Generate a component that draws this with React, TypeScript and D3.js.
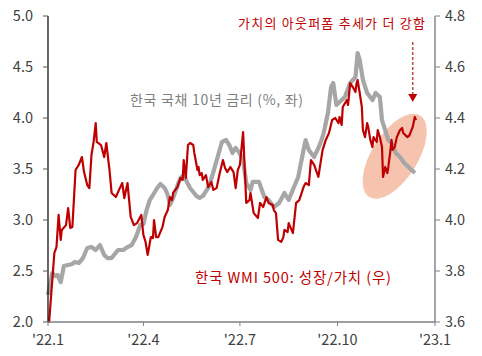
import React from "react";
import * as d3 from "d3";

const W = 482;
const H = 356;

// Korea 10Y government bond yield (%, left axis): day offset from 2022-01-01, value
const bondDays = [0, 4, 7, 9, 12, 15, 19, 23, 25, 29, 33, 37, 41, 45, 49, 53, 56, 60, 66, 71, 75, 79, 83, 87, 90, 93, 96, 99, 103, 106, 110, 113, 115, 118, 120, 123, 125, 128, 131, 134, 137, 140, 143, 146, 148, 152, 156, 160, 164, 168, 171, 174, 177, 180, 184, 187, 191, 193, 199, 204, 208, 213, 218, 223, 227, 232, 236, 241, 243, 246, 251, 255, 258, 260, 264, 267, 269, 272, 275, 280, 285, 290, 292, 294, 297, 301, 306, 309, 313, 315, 318, 321, 324, 328, 332, 336, 340, 343, 346];
const bondValues = [2.265, 2.48, 2.451, 2.461, 2.392, 2.549, 2.559, 2.569, 2.588, 2.578, 2.627, 2.725, 2.735, 2.706, 2.755, 2.657, 2.627, 2.627, 2.706, 2.706, 2.735, 2.755, 2.833, 2.951, 2.961, 3.098, 3.196, 3.245, 3.314, 3.353, 3.314, 3.245, 3.147, 3.216, 3.275, 3.363, 3.412, 3.441, 3.373, 3.314, 3.275, 3.235, 3.216, 3.235, 3.265, 3.333, 3.471, 3.618, 3.765, 3.784, 3.735, 3.657, 3.706, 3.667, 3.588, 3.363, 3.294, 3.373, 3.373, 3.225, 3.196, 3.127, 3.167, 3.265, 3.196, 3.324, 3.422, 3.686, 3.784, 3.686, 3.618, 3.706, 3.784, 3.853, 4.049, 4.304, 4.343, 4.127, 4.157, 4.206, 4.343, 4.402, 4.637, 4.569, 4.373, 4.245, 4.176, 4.245, 4.206, 3.98, 3.882, 3.784, 3.755, 3.657, 3.618, 3.559, 3.52, 3.49, 3.461];

// Korea WMI 500 growth/value (right axis): day offset from 2022-01-01, value
const wmiDays = [1, 6, 8, 10, 12, 13, 17, 19, 21, 23, 26, 29, 32, 34, 37, 39, 41, 43, 45, 46, 50, 53, 55, 58, 60, 64, 67, 70, 72, 75, 78, 81, 84, 88, 90, 92, 94, 97, 99, 100, 102, 104, 108, 110, 113, 115, 117, 118, 122, 125, 127, 128, 130, 132, 134, 137, 138, 141, 142, 143, 145, 146, 149, 151, 154, 156, 159, 162, 165, 167, 169, 172, 175, 177, 179, 181, 184, 187, 190, 191, 194, 198, 200, 203, 206, 208, 212, 213, 215, 217, 220, 222, 223, 226, 227, 231, 234, 237, 241, 243, 246, 248, 251, 255, 256, 259, 262, 265, 268, 271, 274, 275, 277, 278, 282, 283, 285, 288, 290, 291, 292, 294, 296, 297, 299, 301, 302, 304, 306, 307, 310, 311, 313, 315, 316, 318, 320, 321, 323, 324, 325, 327, 329, 332, 334, 335, 339, 341, 344, 346, 347];
const wmiValues = [3.596, 3.871, 3.894, 4.02, 3.922, 3.961, 3.98, 4.047, 3.969, 3.973, 4.196, 4.216, 4.247, 4.188, 4.137, 4.125, 4.255, 4.306, 4.38, 4.306, 4.294, 4.247, 4.302, 4.196, 4.106, 4.09, 4.118, 4.145, 4.086, 4.145, 4.012, 3.98, 3.988, 4.02, 3.941, 3.914, 3.863, 3.933, 3.929, 4.0, 3.933, 3.933, 3.973, 4.012, 4.039, 4.09, 4.078, 4.106, 4.129, 4.165, 4.157, 4.235, 4.165, 4.294, 4.302, 4.294, 4.263, 4.196, 4.208, 4.176, 4.184, 4.157, 4.176, 4.129, 4.149, 4.118, 4.125, 4.184, 4.235, 4.204, 4.188, 4.208, 4.188, 4.125, 4.196, 4.216, 4.345, 4.067, 4.078, 4.106, 4.027, 4.008, 4.067, 4.051, 4.09, 4.067, 4.059, 4.039, 4.027, 3.922, 3.914, 3.933, 3.961, 3.953, 3.988, 3.949, 4.067, 4.078, 4.129, 4.145, 4.137, 4.235, 4.216, 4.169, 4.196, 4.275, 4.314, 4.341, 4.392, 4.4, 4.38, 4.404, 4.373, 4.443, 4.471, 4.451, 4.537, 4.518, 4.502, 4.537, 4.549, 4.498, 4.443, 4.353, 4.325, 4.38, 4.365, 4.314, 4.286, 4.325, 4.306, 4.353, 4.325, 4.286, 4.169, 4.208, 4.184, 4.208, 4.275, 4.314, 4.275, 4.286, 4.325, 4.353, 4.361, 4.341, 4.325, 4.333, 4.365, 4.404, 4.392];

const leftTicks = [2.0, 2.5, 3.0, 3.5, 4.0, 4.5, 5.0];
const rightTicks = [3.6, 3.8, 4.0, 4.2, 4.4, 4.6, 4.8];
const xTickLabels = ["'22.1", "'22.4", "'22.7", "'22.10", "'23.1"];
const xTickDates = ["2022-01-01", "2022-04-01", "2022-07-01", "2022-10-01", "2023-01-01"];

const bondLabel = "한국 국채 10년 금리 (%, 좌)";
const wmiLabel = "한국 WMI 500: 성장/가치 (우)";
const noteLabel = "가치의 아웃퍼폼 추세가 더 강함";

const FONT = "'Noto Sans CJK KR', 'Noto Sans', sans-serif";
const RED = "#C00000";
const GREY = "#A6A6A6";

const start = new Date(2022, 0, 1);
const parse = (s: string) => {
  const [y, m, d] = s.split("-").map(Number);
  return new Date(y, m - 1, d);
};

export default function App() {
  const left = 48, right = 435, top = 16, bottom = 322;
  const x = d3.scaleTime().domain([start, new Date(2023, 0, 1)]).range([left, right]);
  const yL = d3.scaleLinear().domain([2, 5]).range([bottom, top]);
  const yR = d3.scaleLinear().domain([3.6, 4.8]).range([bottom, top]);

  const bond = bondDays.map((d, i) => ({ date: d3.timeDay.offset(start, d), v: bondValues[i] }));
  const wmi = wmiDays.map((d, i) => ({ date: d3.timeDay.offset(start, d), v: wmiValues[i] }));

  const lineL = d3.line<{ date: Date; v: number }>().x(d => x(d.date)).y(d => yL(d.v));
  const lineR = d3.line<{ date: Date; v: number }>().x(d => x(d.date)).y(d => yR(d.v));

  // highlight ellipse around the last weeks of data
  const eDate = d3.timeDay.offset(start, 327);
  const ex = x(eDate);
  const ey = yR(4.25);

  const arrowX = x(d3.timeDay.offset(start, 344));

  return (
    <svg width={W} height={H} style={{ position: "absolute", left: 0, top: 0, background: "#fff" }} fontFamily={FONT}>
      <rect x={0} y={0} width={W} height={H} fill="#fff" />
      <ellipse cx={ex} cy={ey} rx={48} ry={23} transform={`rotate(-58 ${ex} ${ey})`} fill="#F6C3AE" />

      <path d={lineL(bond) || ""} fill="none" stroke={GREY} strokeWidth={4.2} strokeLinejoin="round" />
      <path d={lineR(wmi) || ""} fill="none" stroke={RED} strokeWidth={2.2} strokeLinejoin="round" />

      {/* left axis */}
      <line x1={left} x2={left} y1={top} y2={bottom} stroke="#000" strokeWidth={1.2} />
      {leftTicks.map(t => (
        <g key={"l" + t}>
          <line x1={left - 5} x2={left} y1={yL(t)} y2={yL(t)} stroke="#555" strokeWidth={1} />
          <text x={33} y={yL(t)} dy="0.36em" textAnchor="end" fontSize={14.5} fill="#404040">{t.toFixed(1)}</text>
        </g>
      ))}

      {/* right axis */}
      <line x1={right} x2={right} y1={top} y2={bottom} stroke="#808080" strokeWidth={1.4} />
      {rightTicks.map(t => (
        <g key={"r" + t}>
          <line x1={right} x2={right + 5} y1={yR(t)} y2={yR(t)} stroke="#808080" strokeWidth={1} />
          <text x={445} y={yR(t)} dy="0.36em" textAnchor="start" fontSize={14.5} fill="#404040">{t.toFixed(1)}</text>
        </g>
      ))}

      {/* bottom axis */}
      <line x1={left} x2={right} y1={bottom} y2={bottom} stroke="#808080" strokeWidth={1.4} />
      {xTickDates.map((s, i) => (
        <g key={s}>
          <line x1={x(parse(s))} x2={x(parse(s))} y1={bottom} y2={bottom + 4} stroke="#808080" strokeWidth={1} />
          <text x={x(parse(s))} y={345} textAnchor="middle" fontSize={14.5} fill="#404040">{xTickLabels[i]}</text>
        </g>
      ))}

      {/* series labels */}
      <text x={130} y={105} fontSize={14} fill="#7F7F7F" textLength={173} lengthAdjust="spacing">{bondLabel}</text>
      <text x={195} y={283} fontSize={14.5} fill={RED} textLength={196} lengthAdjust="spacing">{wmiLabel}</text>

      {/* annotation */}
      <text x={238} y={28} fontSize={13} fill={RED} textLength={187} lengthAdjust="spacing">{noteLabel}</text>
      <line x1={arrowX} x2={arrowX} y1={42} y2={94} stroke="#C0504D" strokeWidth={1.6} strokeDasharray="3,2" />
      <path d={`M${arrowX - 4.5},94 L${arrowX + 4.5},94 L${arrowX},102 Z`} fill="#C00000" />
    </svg>
  );
}
